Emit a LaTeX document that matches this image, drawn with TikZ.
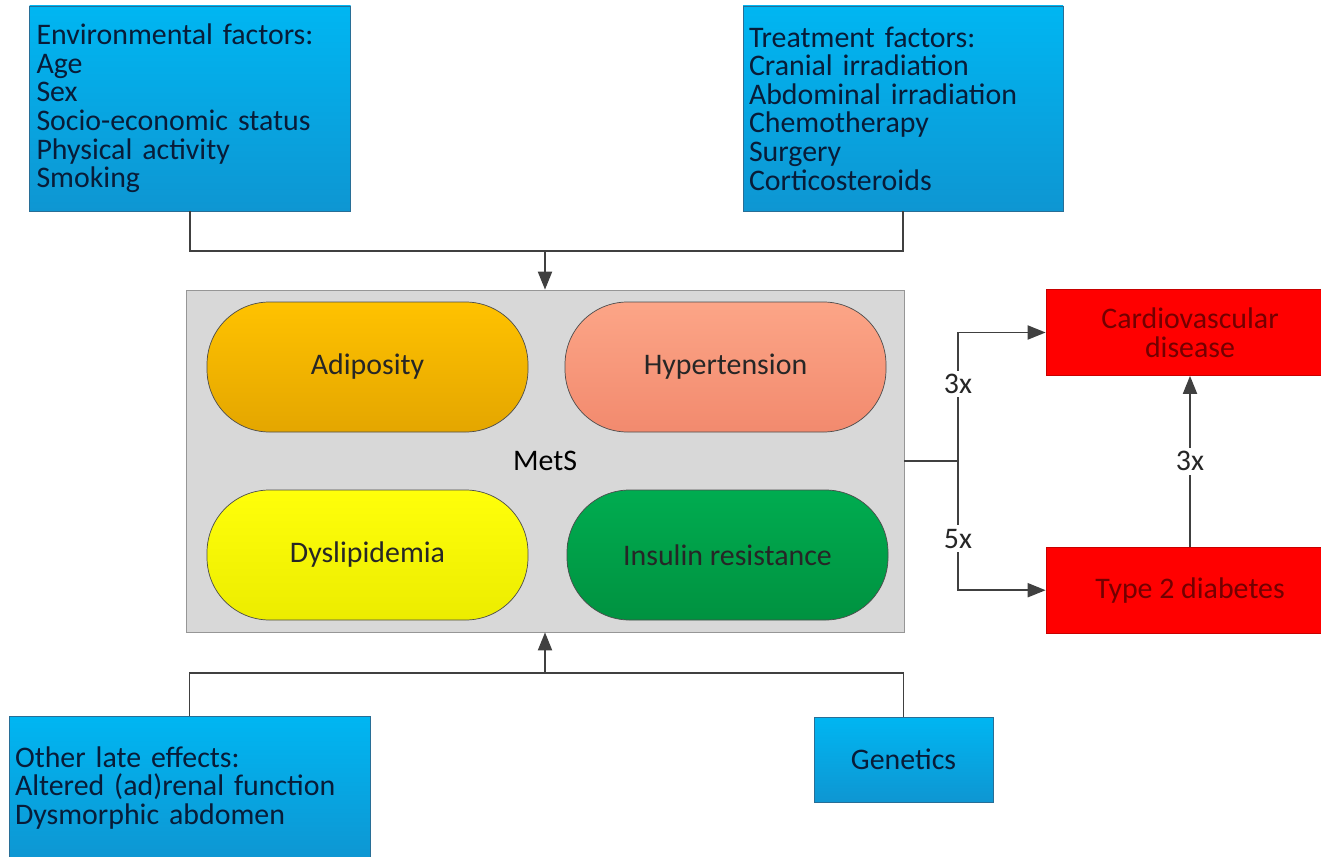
\documentclass[tikz,border=0pt]{standalone}
\usepackage{fontspec}
\setmainfont{Carlito}
\usetikzlibrary{arrows.meta,positioning,calc}
\definecolor{bluetop}{RGB}{0,182,242}
\definecolor{bluebot}{RGB}{14,150,210}
\definecolor{blueline}{RGB}{40,110,150}
\definecolor{bluetext}{RGB}{8,28,56}
\definecolor{orangetop}{RGB}{255,194,0}
\definecolor{orangebot}{RGB}{228,166,0}
\definecolor{salmontop}{RGB}{252,165,135}
\definecolor{salmonbot}{RGB}{242,138,110}
\definecolor{yellowtop}{RGB}{255,255,10}
\definecolor{yellowbot}{RGB}{236,236,0}
\definecolor{greentop}{RGB}{0,172,80}
\definecolor{greenbot}{RGB}{0,146,64}
\definecolor{redi}{RGB}{255,0,0}
\definecolor{redline}{RGB}{200,0,0}
\definecolor{redtext}{RGB}{115,0,0}
\definecolor{metsgray}{RGB}{216,216,216}
\definecolor{metsline}{RGB}{150,150,150}
\definecolor{linegray}{RGB}{64,64,64}
\tikzset{
          factor/.style={
            rectangle,draw=blueline,
            top color=bluetop,bottom color=bluebot,
            text=bluetext,align=left,
            font=\fontsize{17}{16.3}\selectfont
          },
          pill/.style={
            rectangle,rounded corners=1.25cm,draw=black!70,
            minimum width=6.42cm,minimum height=2.6cm,
            text=black!85,font=\fontsize{17}{19}\selectfont
          },
          outcome/.style={
            rectangle,draw=redline,fill=redi,text=redtext,align=center,
            minimum width=5.76cm,minimum height=1.72cm,
            font=\fontsize{17}{16.3}\selectfont
          },
          link/.style={draw=linegray,line width=1.1pt},
          arr/.style={link,-{Triangle[length=0.36cm,width=0.28cm]}},
          ratio/.style={fill=white,inner sep=2pt,text=black!85,
            font=\fontsize{17}{18}\selectfont}
        }
\newcommand\Pill[4]{%
          \node[pill,#2,top color=#3top,bottom color=#3bot] (#1) {#4};
        }

\begin{document}
\begin{tikzpicture}
            \useasboundingbox (0,0) rectangle (26.42,-17.12);

            % factors
            \node[factor,text width=6.14cm,inner xsep=0.14cm,minimum height=4.1cm] (env) at (3.8,-2.17)
              {Environmental factors:\\Age\\Sex\\Socio-economic status\\Physical activity\\Smoking};
            \node[factor,text width=6.16cm,inner xsep=0.12cm,minimum height=4.1cm] (treat) at (18.06,-2.17)
              {Treatment factors:\\Cranial irradiation\\Abdominal irradiation\\Chemotherapy\\Surgery\\Corticosteroids};
            \node[factor,text width=6.98cm,inner xsep=0.12cm,minimum height=2.88cm] (late) at (3.79,-15.76)
              {Other late effects:\\Altered (ad)renal function\\Dysmorphic abdomen};
            \node[factor,align=center,minimum width=3.58cm,minimum height=1.7cm] (genes) at (18.07,-15.19)
              {Genetics};

            % MetS
            \node[rectangle,draw=metsline,fill=metsgray,minimum width=14.36cm,minimum height=6.84cm,
              font=\fontsize{17}{18}\selectfont] (mets) at (10.9,-9.22) {MetS};
            \Pill{adip}{below right=0.24cm and 0.42cm of mets.north west}{orange}{Adiposity}
            \Pill{hyper}{below left=0.24cm and 0.36cm of mets.north east}{salmon}{Hypertension}
            \Pill{dysl}{above right=0.24cm and 0.42cm of mets.south west}{yellow}{Dyslipidemia}
            \Pill{insul}{above left=0.24cm and 0.32cm of mets.south east}{green}{Insulin resistance}

            % outcomes
            \node[outcome] (cvd) at (23.8,-6.65) {Cardiovascular\\disease};
            \node[outcome,below=3.42cm of cvd] (t2d) {Type 2 diabetes};

            % connectors
            \coordinate (topjoin) at (10.9,-5.02);
            \coordinate (botjoin) at (10.9,-13.46);
            \coordinate (split) at (19.16,-9.22);
            \draw[link] (env.south) |- (topjoin) -| (treat.south);
            \draw[arr] (topjoin) -- (mets.north);
            \draw[link] (late.north) |- (botjoin) -| (genes.north);
            \draw[arr] (botjoin) -- (mets.south);
            \draw[link] (mets.east) -- (split);
            \draw[arr] (split) |- node[ratio,pos=0.3] {3x} (cvd.west);
            \draw[arr] (split) |- node[ratio,pos=0.3] {5x} (t2d.west);
            \draw[arr] (t2d.north) -- node[ratio] {3x} (cvd.south);
          \end{tikzpicture}
\end{document}
